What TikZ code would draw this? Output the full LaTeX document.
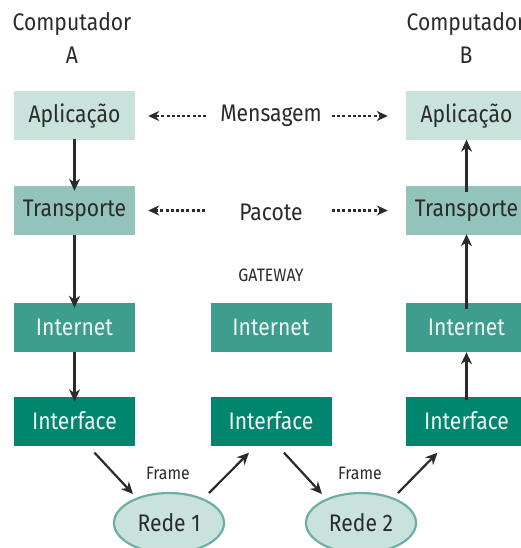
\documentclass[tikz,border=0pt]{standalone}
\usepackage{fontspec}
\setmainfont[FakeStretch=0.88]{Fira Sans}
\usetikzlibrary{arrows.meta,calc,shapes.geometric}

\definecolor{appfill}{HTML}{C9E2DB}
\definecolor{trafill}{HTML}{92C4BB}
\definecolor{intfill}{HTML}{3E9D8D}
\definecolor{ifcfill}{HTML}{00866F}
\definecolor{redeline}{HTML}{6CB0A5}
\definecolor{ink}{HTML}{2B2B2B}
\definecolor{paletext}{HTML}{EEF7F4}

\tikzset{
  layer/.style={rectangle, minimum width=121pt, minimum height=49pt, inner sep=0pt,
    font=\fontsize{24}{28}\selectfont},
  applayer/.style={layer, fill=appfill, text=ink},
  tralayer/.style={layer, fill=trafill, text=ink},
  intlayer/.style={layer, fill=intfill, text=paletext},
  ifclayer/.style={layer, fill=ifcfill, text=paletext},
  rede/.style={ellipse, minimum width=110pt, minimum height=60pt, inner sep=0pt,
    fill=appfill, draw=redeline, line width=2.2pt, text=ink,
    font=\fontsize{24}{28}\selectfont},
  label/.style={text=ink, font=\fontsize{24}{28}\selectfont, inner sep=0pt},
  small/.style={text=ink, font=\fontsize{18}{21}\selectfont, inner sep=0pt},
  flow/.style={draw=ink, line width=2.2pt, -{Stealth[length=12pt,width=11pt]}},
  peer/.style={draw=ink, line width=2.2pt, dash pattern=on 3pt off 2.2pt,
    -{Stealth[length=11pt,width=10pt]}},
}

\begin{document}
\begin{tikzpicture}[x=1pt, y=-1pt]
  \useasboundingbox[fill=white] (0,0) rectangle (520,548);

  % host titles
  \node[label, align=center] (hostA) at (72,38) {Computador\\[5pt]A};
  \node[label, align=center] (hostB) at (466,38) {Computador\\[5pt]B};

  % host A stack
  \node[applayer] (appA) at (74.5,116) {Aplicação};
  \node[tralayer] (traA) at (74.5,210.5) {Transporte};
  \node[intlayer] (intA) at (74.5,327.5) {Internet};
  \node[ifclayer] (ifcA) at (74.5,421) {Interface};

  % gateway
  \node[small] (gw) at (271,275) {GATEWAY};
  \node[intlayer] (intG) at (271,327.5) {Internet};
  \node[ifclayer] (ifcG) at (271,421) {Interface};

  % host B stack
  \node[applayer] (appB) at (466.5,116) {Aplicação};
  \node[tralayer] (traB) at (466.5,210.5) {Transporte};
  \node[intlayer] (intB) at (466.5,327.5) {Internet};
  \node[ifclayer] (ifcB) at (466.5,421) {Interface};

  % networks
  \node[rede] (rede1) at (169,523) {Rede 1};
  \node[rede] (rede2) at (361,523) {Rede 2};

  % peer messages
  \node[label] (msg) at (271,116) {Mensagem};
  \node[label] (pkt) at (271,212) {Pacote};
  \draw[peer] ([xshift=-65pt]msg.center) -- ([xshift=13pt]appA.east);
  \draw[peer] ([xshift=61pt]msg.center) -- ([xshift=-18pt]appB.west);
  \draw[peer] ([shift={(-66,-1.5)}]pkt.center) -- ([xshift=13pt]traA.east);
  \draw[peer] ([shift={(61,-1.5)}]pkt.center) -- ([xshift=-18pt]traB.west);

  % down through host A
  \draw[flow] ([yshift=2pt]appA.south) -- ([yshift=-5pt]traA.north);
  \draw[flow] (traA.south) -- ([yshift=-5pt]intA.north);
  \draw[flow] (intA.south) -- ([yshift=-5pt]ifcA.north);

  % up through host B
  \draw[flow] ([yshift=-4pt]ifcB.north) -- (intB.south);
  \draw[flow] ([yshift=-6pt]intB.north) -- ([yshift=1pt]traB.south);
  \draw[flow] ([yshift=-6pt]traB.north) -- ([yshift=1pt]appB.south);

  % frames across the networks
  \node[small] (frame1) at (168,473) {Frame};
  \node[small] (frame2) at (360,473) {Frame};
  \draw[flow] ([shift={(20,7)}]ifcA.south) -- ([shift={(-36,-29)}]rede1.center);
  \draw[flow] ([shift={(40,-30)}]rede1.center) -- ([shift={(-22,7)}]ifcG.south);
  \draw[flow] ([shift={(13,7)}]ifcG.south) -- ([shift={(-39,-29)}]rede2.center);
  \draw[flow] ([shift={(37,-30)}]rede2.center) -- ([shift={(-29,7)}]ifcB.south);
\end{tikzpicture}
\end{document}
